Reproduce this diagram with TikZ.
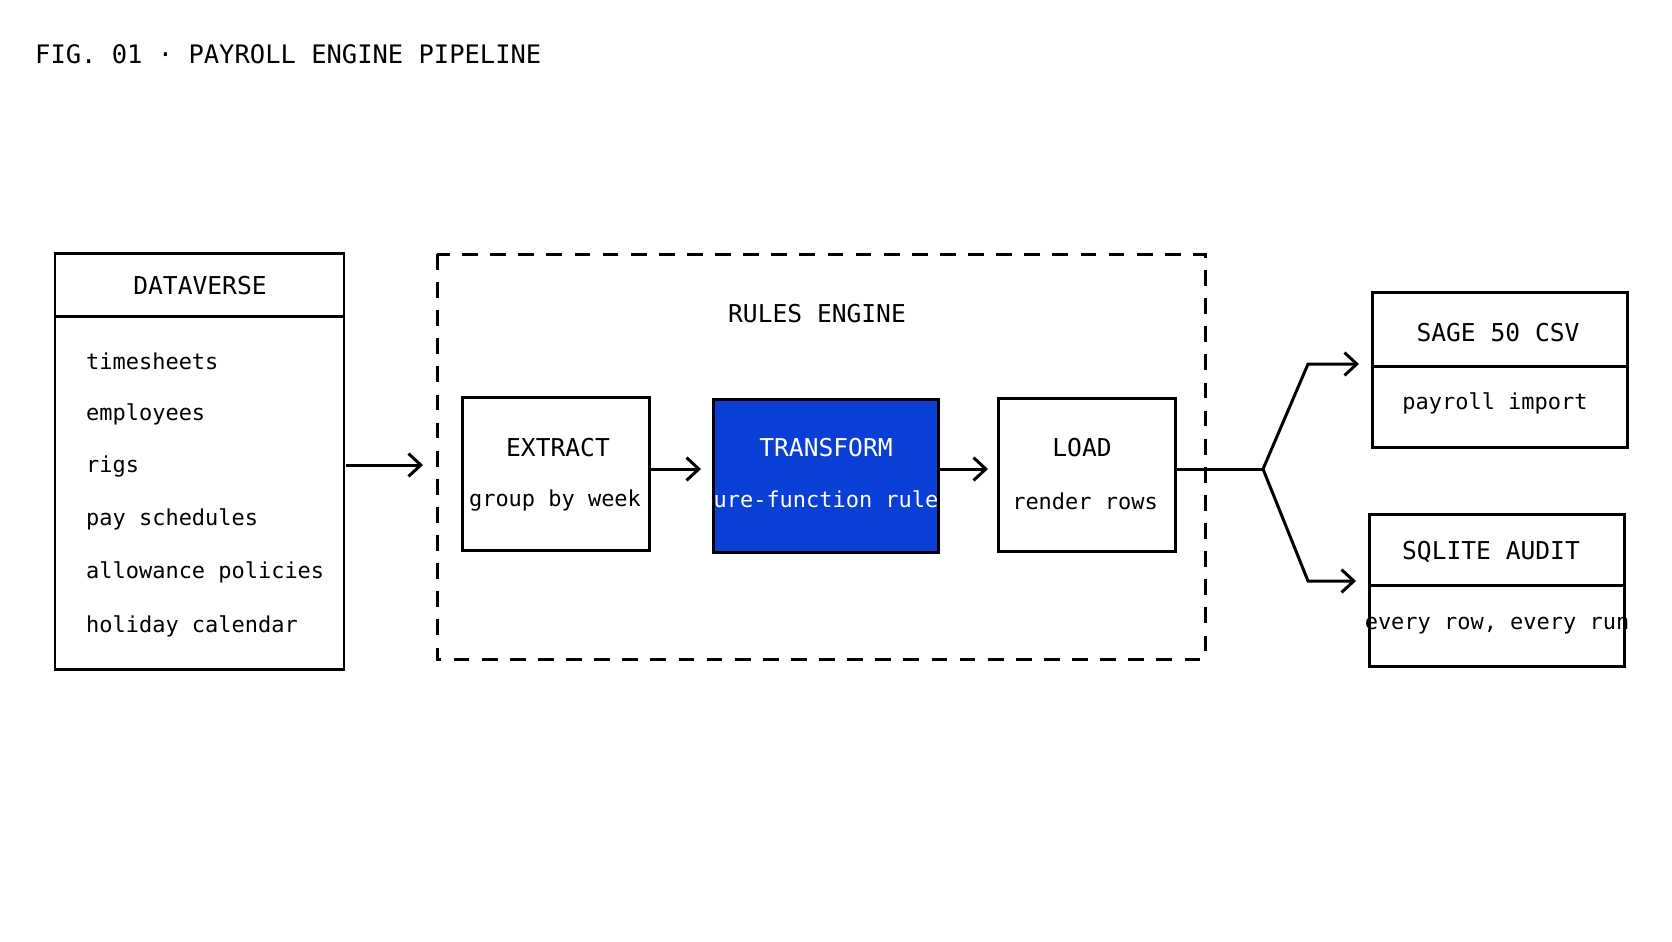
\documentclass[tikz,border=0pt]{standalone}
\usepackage{fontspec}
\setmonofont{DejaVu Sans Mono}
\usetikzlibrary{arrows.meta}
\definecolor{tblue}{HTML}{0A3FD6}
\begin{document}
\begin{tikzpicture}[x=0.02cm,y=-0.02cm,
  box/.style={draw=black,line width=1.7pt},
  lbl/.style={font=\ttfamily\fontsize{14}{16}\selectfont},
  sub/.style={font=\ttfamily\fontsize{12.5}{15}\selectfont},
  arr/.style={line width=1.7pt,-{Straight Barb[length=7pt,width=13pt,line width=1.7pt]}},
  ln/.style={line width=1.7pt}]
\useasboundingbox (0,0) rectangle (1672,941);
\node[anchor=west,font=\ttfamily\fontsize{14.5}{16}\selectfont] (title) at (29,54) {FIG. 01 · PAYROLL ENGINE PIPELINE};
% Dataverse
\draw[box] (55,253) rectangle (344,669);
\draw[ln] (55,316) -- (344,316);
\node[box,draw=none,minimum width=0] (dv) at (199.5,461) {};
\node[lbl] (dvt) at (200,286) {DATAVERSE};
\foreach \t/\y in {timesheets/361,employees/414,rigs/467,pay schedules/519,allowance policies/572,holiday calendar/626}
  \node[sub,anchor=west] at (80,\y) {\t};
\coordinate (dvr) at (346,465);
% rules engine
\draw[line width=1.7pt,dash pattern=on 9pt off 7pt] (437,254) rectangle (1205,659);
\node[lbl] (re) at (817,314) {RULES ENGINE};
\coordinate (rel) at (423,465);
\draw[arr] (dvr) -- (rel);
% stages
\node[box,minimum width=187*0.02cm,minimum height=153*0.02cm] (ex) at (555.5,473.5) {};
\node[lbl] at (558,448) {EXTRACT};
\node[sub] at (555,501) {group by week};
\node[box,fill=tblue,minimum width=225*0.02cm,minimum height=153*0.02cm] (tr) at (825.5,475.5) {};
\node[lbl,text=white] at (826,448) {TRANSFORM};
\node[sub,text=white] at (826,501) {pure-function rules};
\node[box,minimum width=177*0.02cm,minimum height=153*0.02cm] (ld) at (1086.5,474.5) {};
\node[lbl] at (1082,448) {LOAD};
\node[sub] at (1085,501) {render rows};
\draw[arr] (ex.east |- 0,469) -- (701,469);
\draw[arr] (tr.east |- 0,469) -- (988,469);
% outputs
\draw[box] (1372,292) rectangle (1627,447);
\draw[ln] (1372,366) -- (1627,366);
\node[lbl] (sg) at (1498,333) {SAGE 50 CSV};
\node[sub] at (1495,403) {payroll import};
\draw[box] (1369,514) rectangle (1624,666);
\draw[ln] (1369,585) -- (1624,585);
\node[lbl] (sq) at (1491,552) {SQLITE AUDIT};
\node[sub] at (1497,626) {every row, every run};
\coordinate (j) at (1263,469);
\draw[ln] (ld.east |- 0,469) -- (j);
\draw[arr] (j) -- (1308,364) -- (1359,364);
\draw[arr] (j) -- (1308,581) -- (1356,581);
\end{tikzpicture}
\end{document}
